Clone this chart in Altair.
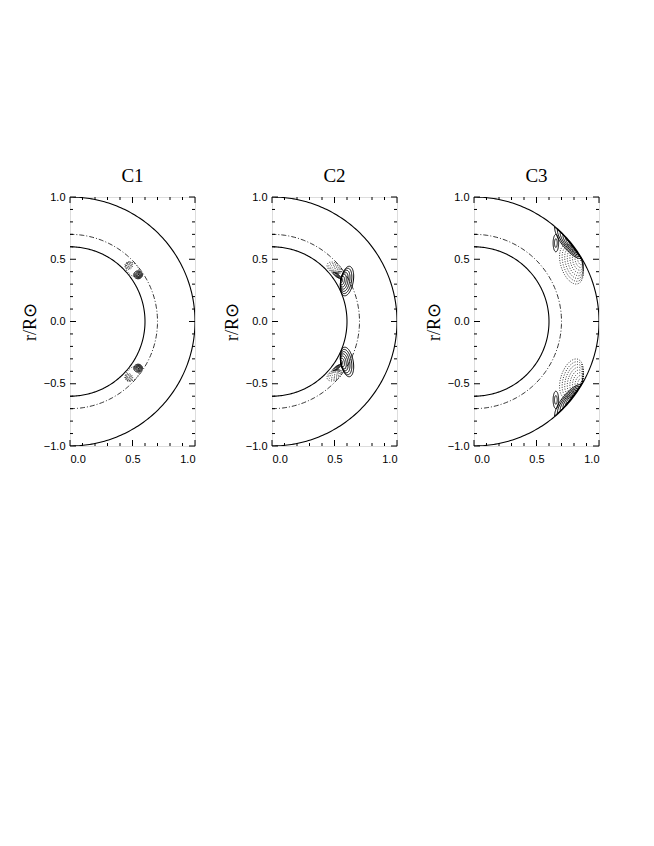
import numpy as np
import pandas as pd
import altair as alt

# ---------------- data ----------------
panel_titles = ["C1", "C2", "C3"]
solid_radii = [0.6, 1.0]          # solid semicircles
dashdot_radius = 0.7              # dash-dot semicircle

x_major = [0.0, 0.5, 1.0]
x_minor = [0.1, 0.2, 0.3, 0.4, 0.6, 0.7, 0.8, 0.9]
y_major = [-1.0, -0.5, 0.0, 0.5, 1.0]
y_minor = [-0.9, -0.8, -0.7, -0.6, -0.4, -0.3, -0.2, -0.1,
           0.1, 0.2, 0.3, 0.4, 0.6, 0.7, 0.8, 0.9]

# contour blobs (nested closed contours): panel, style, outer centre, core, semi-axes, tilt, levels
blob_panel  = ["C1", "C1", "C1", "C1", "C1", "C1",
               "C2", "C2", "C2", "C2", "C2", "C2",
               "C3", "C3", "C3", "C3", "C3", "C3"]
blob_style  = ["solid", "dotted", "dotted", "solid", "dotted", "dotted",
               "solid", "solid", "dotted", "solid", "solid", "dotted",
               "solid", "solid", "dotted", "solid", "solid", "dotted"]
blob_cx     = [0.545, 0.47, 0.50, 0.545, 0.47, 0.50,
               0.600, 0.52, 0.50, 0.600, 0.52, 0.50,
               0.760, 0.655, 0.78, 0.760, 0.655, 0.78]
blob_cy     = [0.375, 0.45, 0.42, -0.375, -0.45, -0.42,
               0.325, 0.37, 0.43, -0.325, -0.37, -0.43,
               0.645, 0.63, 0.46, -0.645, -0.63, -0.46]
blob_core_x = [0.550, 0.47, 0.50, 0.550, 0.47, 0.50,
               0.550, 0.53, 0.52, 0.550, 0.53, 0.52,
               0.800, 0.655, 0.87, 0.800, 0.655, 0.87]
blob_core_y = [0.370, 0.45, 0.42, -0.370, -0.45, -0.42,
               0.330, 0.36, 0.40, -0.330, -0.36, -0.40,
               0.610, 0.63, 0.50, -0.610, -0.63, -0.50]
blob_a      = [0.035, 0.033, 0.065, 0.035, 0.033, 0.065,
               0.050, 0.040, 0.065, 0.050, 0.040, 0.065,
               0.170, 0.022, 0.165, 0.170, 0.022, 0.165]
blob_b      = [0.032, 0.030, 0.045, 0.032, 0.030, 0.045,
               0.120, 0.012, 0.040, 0.120, 0.012, 0.040,
               0.060, 0.070, 0.085, 0.060, 0.070, 0.085]
blob_rot    = [0, 45, 130, 0, -45, -130,
               -10, -35, -30, 10, 35, 30,
               128, 0, 108, -128, 0, -108]
blob_levels = [5, 5, 1, 5, 5, 1,
               7, 3, 6, 7, 3, 6,
               7, 2, 9, 7, 2, 9]

W, H = 125, 249

# ---------------- build tables ----------------
def semicircle(r, cid):
    th = np.linspace(-np.pi / 2, np.pi / 2, 181)
    return pd.DataFrame({"x": r * np.cos(th), "y": r * np.sin(th), "curve": cid, "i": np.arange(th.size)})

circ_solid = pd.concat([semicircle(r, f"s{r}") for r in solid_radii], ignore_index=True)
circ_dd = semicircle(dashdot_radius, "dd")

t = np.linspace(0, 2 * np.pi, 91)
rows = []
for b in range(len(blob_panel)):
    n = blob_levels[b]
    rot = np.deg2rad(blob_rot[b])
    for k in range(1, n + 1):
        s = k / n
        cx = blob_core_x[b] + s * (blob_cx[b] - blob_core_x[b])
        cy = blob_core_y[b] + s * (blob_cy[b] - blob_core_y[b])
        ex = blob_a[b] * s * np.cos(t)
        ey = blob_b[b] * s * np.sin(t)
        px = cx + ex * np.cos(rot) - ey * np.sin(rot)
        py = cy + ex * np.sin(rot) + ey * np.cos(rot)
        rr = np.clip(np.hypot(px, py), 0.6, 0.995)
        aa = np.arctan2(py, px)
        rows.append(pd.DataFrame({"panel": blob_panel[b], "style": blob_style[b],
                                  "curve": f"b{b}_{k}", "i": np.arange(t.size),
                                  "x": rr * np.cos(aa), "y": rr * np.sin(aa)}))
blobs = pd.concat(rows, ignore_index=True)

xt_major = pd.DataFrame({"x": x_major})
xt_minor = pd.DataFrame({"x": x_minor})
yt_major = pd.DataFrame({"y": y_major})
yt_minor = pd.DataFrame({"y": y_minor})

LABEL_FONT = "Liberation Sans"
SERIF = "Liberation Serif"

xscale = alt.Scale(domain=[0, 1], nice=False, zero=False)
yscale = alt.Scale(domain=[-1, 1], nice=False, zero=False)

xaxis = alt.Axis(values=x_major, format=".1f", ticks=False, domain=False, grid=False,
                 title=None, labelFont=LABEL_FONT, labelFontSize=11, labelColor="black",
                 labelPadding=7)
yaxis = alt.Axis(values=y_major, format=".1f", ticks=False, domain=False, grid=False,
                 title="r/R⊙", titleFont=SERIF, titleFontSize=18, titleFontWeight="normal",
                 titleColor="black", titlePadding=4,
                 labelFont=LABEL_FONT, labelFontSize=11, labelColor="black",
                 labelPadding=5)
X = alt.X("x:Q", scale=xscale, axis=xaxis)
Y = alt.Y("y:Q", scale=yscale, axis=yaxis)


def ticks():
    layers = []
    for df, ln in ((xt_major, 6), (xt_minor, 3)):
        layers.append(alt.Chart(df).mark_rule(color="black", strokeWidth=1).encode(
            x=X, y=alt.value(H), y2=alt.value(H - ln)))
        layers.append(alt.Chart(df).mark_rule(color="black", strokeWidth=1).encode(
            x=X, y=alt.value(0), y2=alt.value(ln)))
    for df, ln in ((yt_major, 6), (yt_minor, 3)):
        layers.append(alt.Chart(df).mark_rule(color="black", strokeWidth=1).encode(
            y=Y, x=alt.value(0), x2=alt.value(ln)))
        layers.append(alt.Chart(df).mark_rule(color="black", strokeWidth=1).encode(
            y=Y, x=alt.value(W), x2=alt.value(W - ln)))
    return layers


def panel(name):
    c1 = alt.Chart(circ_solid).mark_line(color="black", strokeWidth=1.1, clip=True).encode(
        x=X, y=Y, detail="curve:N", order="i:Q")
    c2 = alt.Chart(circ_dd).mark_line(color="black", strokeWidth=0.8, strokeDash=[5, 2, 1, 2], clip=True).encode(
        x=X, y=Y, detail="curve:N", order="i:Q")
    d = blobs[blobs.panel == name]
    bs = alt.Chart(d[d["style"] == "solid"]).mark_line(color="black", strokeWidth=1.0, clip=True).encode(
        x=X, y=Y, detail="curve:N", order="i:Q")
    bd = alt.Chart(d[d["style"] == "dotted"]).mark_line(color="black", strokeWidth=0.8,
                                                       strokeDash=[1, 1.5], clip=True).encode(
        x=X, y=Y, detail="curve:N", order="i:Q")
    return alt.layer(c1, c2, bs, bd, *ticks()).properties(
        width=W, height=H,
        title=alt.TitleParams(name, font=SERIF, fontSize=19, fontWeight="normal", color="black", offset=5),
    )


chart = alt.hconcat(*[panel(p) for p in panel_titles], spacing=26).properties(
    padding={"left": 12, "top": 158, "right": 5, "bottom": 5}
).configure_view(stroke="black", strokeWidth=1).configure(background="white")

chart.save("out.html", embed_options={"renderer": "svg", "actions": False})
